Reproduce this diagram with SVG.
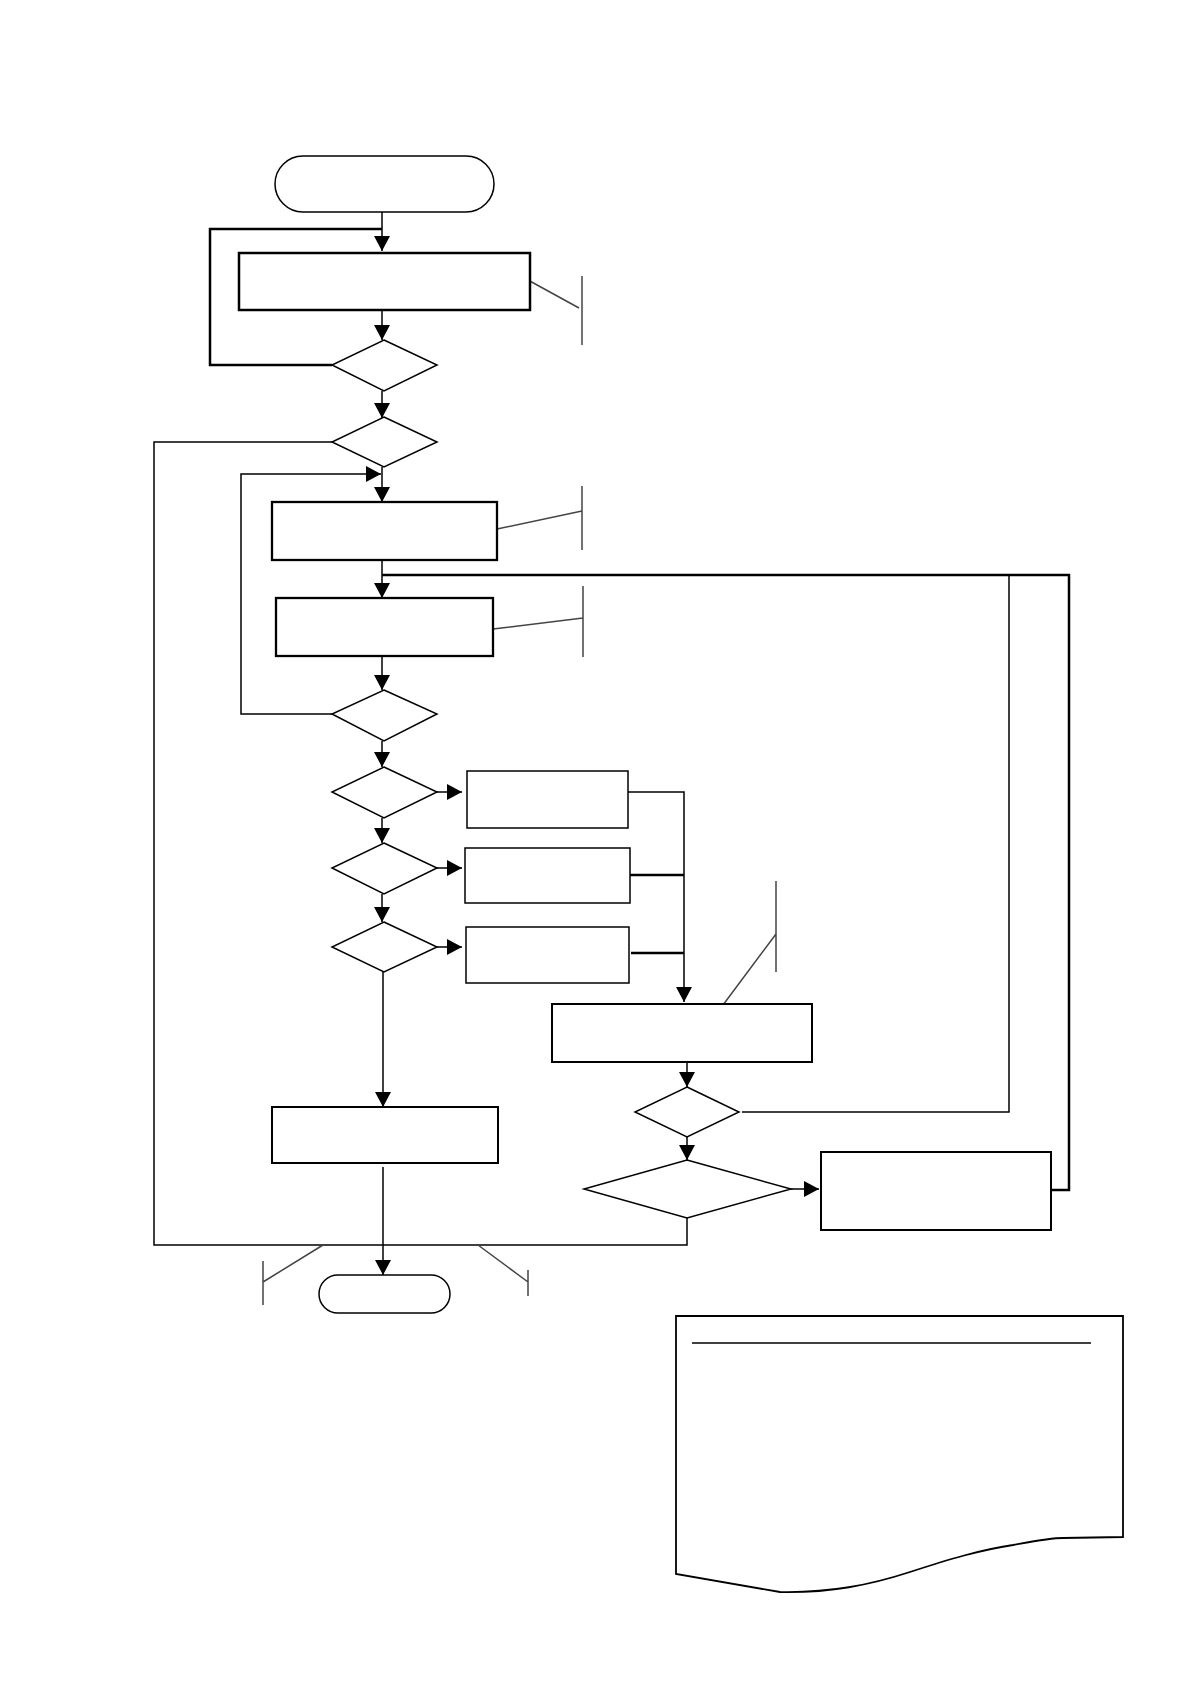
<svg xmlns="http://www.w3.org/2000/svg" width="1190" height="1684" viewBox="0 0 1190 1684">
<style>
.n{fill:#fff;stroke:#000;stroke-width:2}
.t{fill:#fff;stroke:#000;stroke-width:1.5}
.c{fill:none;stroke:#000;stroke-width:1.5}
.k{fill:none;stroke:#000;stroke-width:2.5}
.a{fill:none;stroke:#444;stroke-width:1.5}
</style>
<defs>
<marker id="ah" markerUnits="userSpaceOnUse" markerWidth="16" markerHeight="16" viewBox="0 0 16 16" refX="15" refY="8" orient="auto">
<path d="M0,0 L15,8 L0,16 Z" fill="#000"/>
</marker>
</defs>
<rect width="1190" height="1684" fill="#fff"/>
<g id="connectors">
<path class="c" d="M382,212 V251" marker-end="url(#ah)"/>
<path class="k" d="M332,365 H210 V229 H382"/>
<path class="c" d="M382,310 V340" marker-end="url(#ah)"/>
<path class="c" d="M382,391 V418" marker-end="url(#ah)"/>
<path class="c" d="M332,442 H154 V1245 H687 V1218"/>
<path class="c" d="M382,467 V502" marker-end="url(#ah)"/>
<path class="c" d="M332,714 H241 V474 H381" marker-end="url(#ah)"/>
<path class="c" d="M382,560 V598" marker-end="url(#ah)"/>
<path class="k" d="M382,575 H1069 V1190 H1051"/>
<path class="c" d="M1009,575 V1112 H742"/>
<path class="c" d="M382,656 V690" marker-end="url(#ah)"/>
<path class="c" d="M382,741 V767" marker-end="url(#ah)"/>
<path class="c" d="M382,818 V843" marker-end="url(#ah)"/>
<path class="c" d="M382,894 V922" marker-end="url(#ah)"/>
<path class="c" d="M437,792 H462" marker-end="url(#ah)"/>
<path class="c" d="M437,868 H462" marker-end="url(#ah)"/>
<path class="c" d="M437,947 H462" marker-end="url(#ah)"/>
<path class="c" d="M628,792 H684 V1002" marker-end="url(#ah)"/>
<path class="k" d="M630,875 H684"/>
<path class="k" d="M631,953 H684"/>
<path class="c" d="M687,1062 V1087" marker-end="url(#ah)"/>
<path class="c" d="M687,1137 V1160" marker-end="url(#ah)"/>
<path class="c" d="M791,1189 H819" marker-end="url(#ah)"/>
<path class="c" d="M383,972 V1107" marker-end="url(#ah)"/>
<path class="c" d="M383,1167 V1275" marker-end="url(#ah)"/>
</g>
<g id="annotations">
<path class="a" d="M528,280 L579,308 M582,276 V345"/>
<path class="a" d="M497,529 L582,511 M582,486 V550"/>
<path class="a" d="M493,629 L583,618 M583,586 V657"/>
<path class="a" d="M723,1005 L776,934 M776,881 V972"/>
<path class="a" d="M323,1245 L263,1282 M263,1261 V1305"/>
<path class="a" d="M478,1245 L528,1282 M528,1270 V1296"/>
</g>
<g id="start"><rect class="t" x="275" y="156" width="219" height="56" rx="28"/></g>
<g id="p1"><rect class="n" x="239" y="253" width="291" height="57" style="stroke-width:2.5"/></g>
<g id="d1"><polygon class="t" points="384,340 437,365 384,391 332,365"/></g>
<g id="d2"><polygon class="t" points="384,417 437,442 384,467 332,442"/></g>
<g id="p2"><rect class="n" x="272" y="502" width="225" height="58" style="stroke-width:2.3"/></g>
<g id="p3"><rect class="n" x="276" y="598" width="217" height="58" style="stroke-width:2.3"/></g>
<g id="d3"><polygon class="t" points="384,690 437,714 384,741 332,714"/></g>
<g id="d4"><polygon class="t" points="384,767 437,792 384,818 332,792"/></g>
<g id="d5"><polygon class="t" points="384,843 437,868 384,894 332,868"/></g>
<g id="d6"><polygon class="t" points="384,922 437,947 384,972 332,947"/></g>
<g id="p4"><rect class="t" x="467" y="771" width="161" height="57"/></g>
<g id="p5"><rect class="t" x="465" y="848" width="165" height="55"/></g>
<g id="p6"><rect class="t" x="466" y="927" width="163" height="56"/></g>
<g id="p7"><rect class="n" x="552" y="1004" width="260" height="58"/></g>
<g id="d7"><polygon class="t" points="687,1087 739,1112 687,1137 635,1112"/></g>
<g id="d8"><polygon class="t" points="687,1160 791,1189 687,1218 584,1189"/></g>
<g id="p8"><rect class="n" x="821" y="1152" width="230" height="78"/></g>
<g id="p9"><rect class="n" x="272" y="1107" width="226" height="56"/></g>
<g id="end"><rect class="t" x="319" y="1275" width="131" height="38" rx="19"/></g>
<g id="doc">
<path class="n" d="M676,1316 H1123 V1537 L1063,1538 C1050,1538 1035,1541 1013,1545 C980,1550 950,1559 910,1572 C870,1585 830,1593 780,1592 L676,1574 Z" style="stroke-width:1.8"/>
<line class="c" x1="692" y1="1343" x2="1091" y2="1343"/>
</g>
</svg>
